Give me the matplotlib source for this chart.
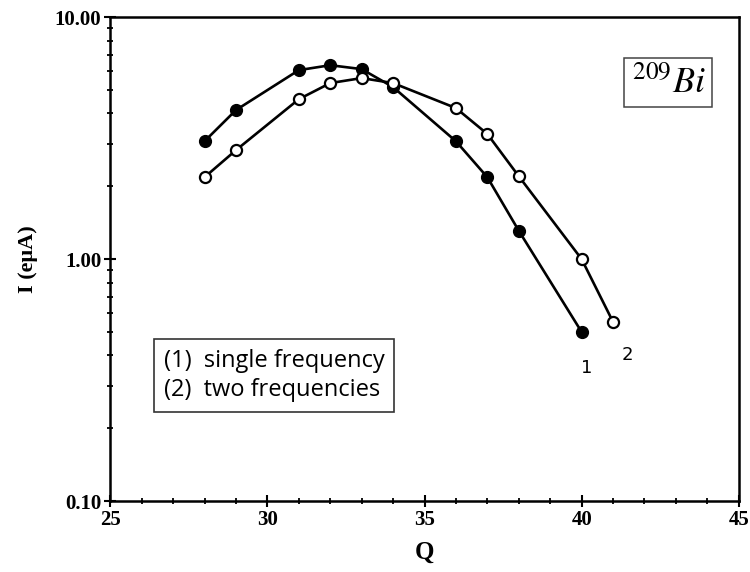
import matplotlib
matplotlib.use('Agg')
import matplotlib.pyplot as plt
from matplotlib.ticker import FixedLocator, NullFormatter, MultipleLocator

# charge state Q and beam current I (eμA)
q_single = [28, 29, 31, 32, 33, 34, 36, 37, 38, 40]
i_single = [3.07, 4.13, 6.04, 6.33, 6.10, 5.14, 3.07, 2.18, 1.31, 0.50]

q_two = [28, 29, 31, 32, 33, 34, 36, 37, 38, 40, 41]
i_two = [2.18, 2.82, 4.58, 5.34, 5.60, 5.34, 4.21, 3.29, 2.20, 1.00, 0.55]

y_ticks = [0.1, 1.0, 10.0]
y_ticklabels = ['0.10', '1.00', '10.00']
x_ticks = [25, 30, 35, 40, 45]
legend_lines = ['(1)  single frequency', '(2)  two frequencies']


def main():
  plt.rcParams['mathtext.fontset'] = 'stix'
  fig = plt.figure(figsize=(7.5, 5.72), dpi=100)
  ax = fig.add_axes([0.147, 0.124, 0.838, 0.846])

  ax.plot(q_single, i_single, '-o', color='black', lw=1.9,
          ms=8.5, mfc='black', mec='black', zorder=3)
  ax.plot(q_two, i_two, '-o', color='black', lw=1.9,
          ms=8, mfc='white', mec='black', mew=1.6, zorder=3)

  ax.set_yscale('log')
  ax.set_xlim(25, 45)
  ax.set_ylim(0.1, 10)

  serif = {'family': 'Liberation Serif', 'weight': 'bold'}
  ax.yaxis.set_major_locator(FixedLocator(y_ticks))
  ax.set_yticklabels(y_ticklabels, fontdict=dict(serif, size=15))
  ax.yaxis.set_minor_locator(matplotlib.ticker.LogLocator(base=10, subs=range(2, 10)))
  ax.yaxis.set_minor_formatter(NullFormatter())
  ax.set_xticks(x_ticks)
  ax.set_xticklabels([str(v) for v in x_ticks], fontdict=dict(serif, size=15))
  ax.xaxis.set_minor_locator(MultipleLocator(1))

  ax.tick_params(which='major', direction='inout', length=9, width=1.5, pad=2)
  ax.tick_params(which='minor', direction='inout', length=5, width=1.3)
  ax.tick_params(axis='both', which='both', right=False, top=False)
  for s in ax.spines.values():
    s.set_linewidth(1.8)

  ax.set_xlabel('Q', fontdict=dict(serif, size=18), labelpad=8)
  ax.set_ylabel('I (eμA)', fontdict=dict(serif, size=16), labelpad=12)

  ax.text(0.888, 0.865, r'$^{209}\mathit{Bi}$', transform=ax.transAxes,
          fontsize=26, ha='center', va='center',
          bbox=dict(boxstyle='square,pad=0.2', fc='white', ec='#444444', lw=1.1))

  ax.text(0.085, 0.26, '\n'.join(legend_lines), transform=ax.transAxes,
          family='Open Sans', fontsize=17, ha='left', va='center', linespacing=1.3,
          bbox=dict(boxstyle='square,pad=0.42', fc='white', ec='#333333', lw=1.2))

  ax.text(40.15, 0.355, '1', fontsize=13, family='DejaVu Sans', ha='center', va='center')
  ax.text(41.45, 0.40, '2', fontsize=13, family='DejaVu Sans', ha='center', va='center')

  fig.savefig('out.png', dpi=100)


if __name__ == "__main__":
  main()
